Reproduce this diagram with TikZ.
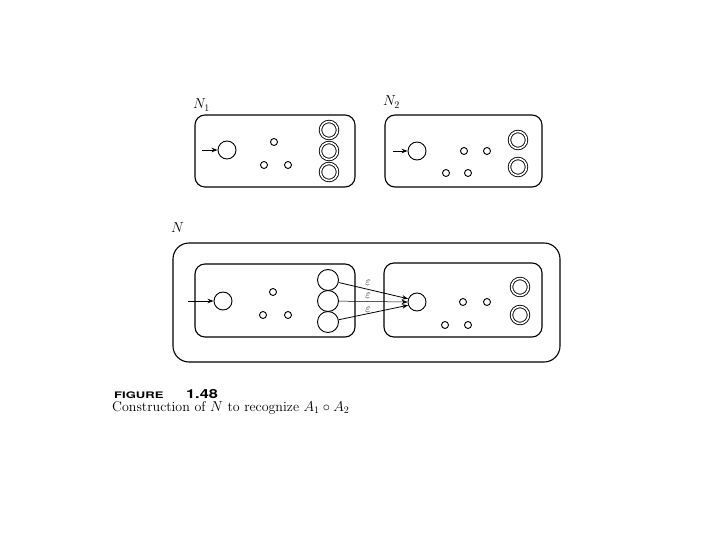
\documentclass[tikz,border=0pt]{standalone}
\usepackage{fontspec}
\setsansfont{TeX Gyre Heros}
\usetikzlibrary{arrows.meta}
\begin{document}
\begin{tikzpicture}[x=1pt,y=-1pt,
  box/.style={draw,line width=1.1pt,rounded corners=10pt},
  outerbox/.style={draw,line width=1.1pt,rounded corners=16pt},
  startst/.style={circle,draw,line width=0.9pt,minimum size=18pt,inner sep=0pt},
  bigst/.style={circle,draw,line width=0.9pt,minimum size=21pt,inner sep=0pt},
  smallst/.style={circle,draw,line width=0.9pt,minimum size=7pt,inner sep=0pt},
  acc/.style={circle,draw,double,double distance=1.6pt,line width=0.9pt,minimum size=17pt,inner sep=0pt},
  arr/.style={-{Stealth[length=6pt,width=4.5pt]},line width=0.8pt},
  lbl/.style={font=\fontsize{14.5}{16}\selectfont,inner sep=0pt,anchor=base west},
  eps/.style={font=\fontsize{12}{13}\selectfont,inner sep=0pt}]
\useasboundingbox (0,0) rectangle (720,540);
% N1
\node[lbl] (n1l) at (193,109) {$N_1$};
\draw[box] (195,115) rectangle (355,187);
\node[startst] (a0) at (227,150) {};
\coordinate (a0in) at (202,150);
\draw[arr] (a0in) -- (a0);
\node[smallst] (a1) at (274,142) {};
\node[smallst] (a2) at (264,165) {};
\node[smallst] (a3) at (288,165) {};
\node[acc] (a4) at (329,130) {};
\node[acc] (a5) at (329,151) {};
\node[acc] (a6) at (329,172) {};
% N2
\node[lbl] (n2l) at (383,106) {$N_2$};
\draw[box] (385,115) rectangle (542,187);
\node[startst] (b0) at (417,151) {};
\coordinate (b0in) at (393,151);
\draw[arr] (b0in) -- (b0);
\node[smallst] (b1) at (464,151) {};
\node[smallst] (b2) at (487,151) {};
\node[smallst] (b3) at (446,173) {};
\node[smallst] (b4) at (468,173) {};
\node[acc] (b5) at (518,140) {};
\node[acc] (b6) at (518,167) {};
% N
\node[lbl] (nl) at (171,233) {$N$};
\draw[outerbox] (173,243) rectangle (560,362);
\draw[box] (195,264) rectangle (355,337);
\draw[box] (384,263) rectangle (542,337);
\node[startst] (c0) at (223,301) {};
\coordinate (c0in) at (188,301);
\draw[arr] (c0in) -- (c0);
\node[smallst] (c1) at (273,292) {};
\node[smallst] (c2) at (263,315) {};
\node[smallst] (c3) at (288,315) {};
\node[bigst] (c4) at (328,280) {};
\node[bigst] (c5) at (328,301) {};
\node[bigst] (c6) at (328,322) {};
\node[startst] (d0) at (417,302) {};
\node[smallst] (d1) at (463,302) {};
\node[smallst] (d2) at (487,302) {};
\node[smallst] (d3) at (445,325) {};
\node[smallst] (d4) at (468,325) {};
\node[acc] (d5) at (520,287) {};
\node[acc] (d6) at (520,315) {};
\draw[arr] (c4) -- (d0.160);
\draw[arr,line width=0.5pt] (c5) -- (d0.180);
\draw[arr] (c6) -- (d0.200);
\node[eps] (e1) at (368,283) {$\varepsilon$};
\node[eps] (e2) at (368,296) {$\varepsilon$};
\node[eps] (e3) at (368,310) {$\varepsilon$};
% caption
\node[anchor=base west,inner sep=0pt,font=\sffamily\bfseries\fontsize{9}{11}\selectfont] (fig) at (114,398) {\scalebox{1.45}[1]{FIGURE}};
\node[anchor=base west,inner sep=0pt,font=\sffamily\bfseries\fontsize{12.5}{14}\selectfont] (num) at (186,398) {\scalebox{1.3}[1]{1.48}};
\node[anchor=base west,inner sep=0pt,font=\fontsize{14}{16}\selectfont] (cap) at (112,411) {Construction of $N$ to recognize $A_1\circ A_2$};
\end{tikzpicture}
\end{document}
